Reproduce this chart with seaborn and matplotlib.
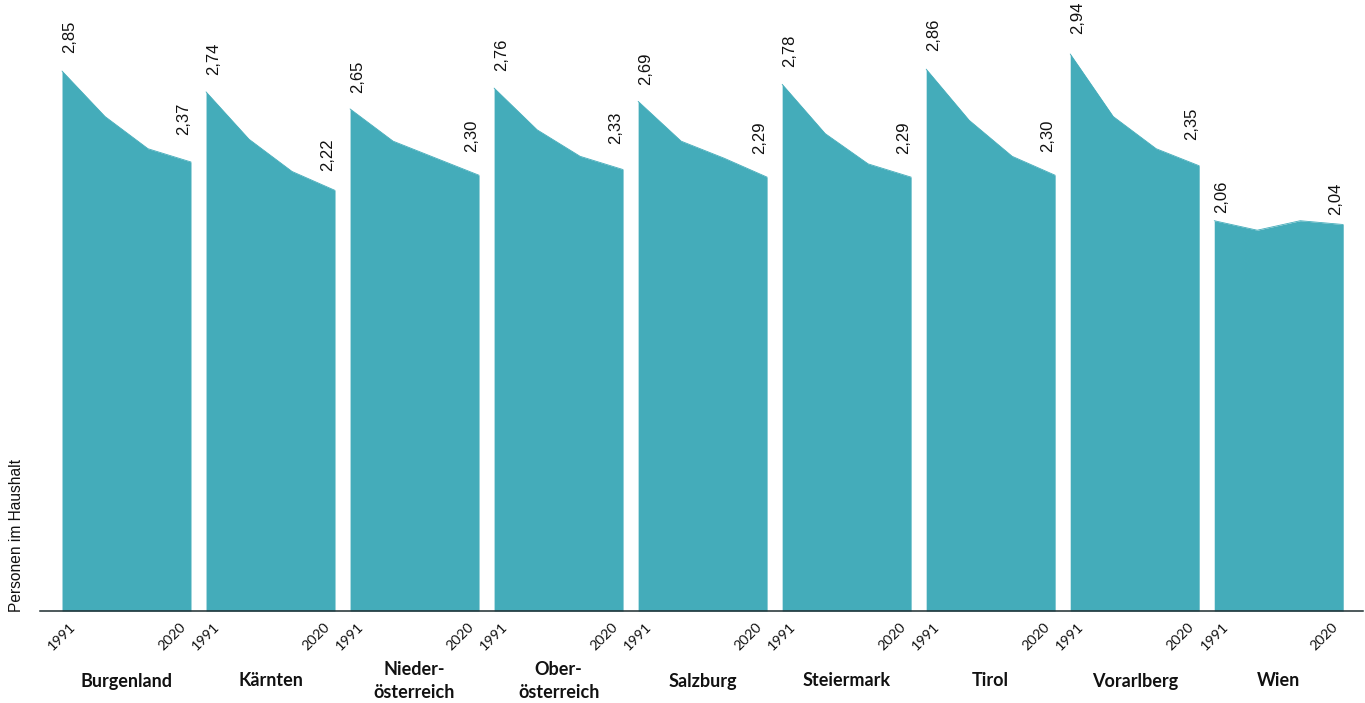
import matplotlib
matplotlib.use("Agg")
import matplotlib.pyplot as plt
import matplotlib.transforms as mtransforms
import numpy as np
import pandas as pd
import seaborn as sns

# Durchschnittliche Haushaltsgröße nach Bundesland (Volkszählung / Registerzählung)
regions = ["Burgenland", "Kärnten", "Nieder-\nösterreich", "Ober-\nösterreich",
           "Salzburg", "Steiermark", "Tirol", "Vorarlberg", "Wien"]
years = [1991, 2001, 2011, 2020]
hh_1991 = [2.85, 2.74, 2.65, 2.76, 2.69, 2.78, 2.86, 2.94, 2.06]
hh_2001 = [2.61, 2.49, 2.48, 2.54, 2.48, 2.52, 2.59, 2.61, 2.01]
hh_2011 = [2.44, 2.32, 2.39, 2.40, 2.39, 2.36, 2.40, 2.44, 2.06]
hh_2020 = [2.37, 2.22, 2.30, 2.33, 2.29, 2.29, 2.30, 2.35, 2.04]

FILL = "#44acba"
BASE = "#1d2c2f"

# long-form table: each region gets its own stretch of the x axis
gap = 0.35
step = len(years) - 1 + gap
rows = []
for i, reg in enumerate(regions):
    vals = [hh_1991[i], hh_2001[i], hh_2011[i], hh_2020[i]]
    for k, (yr, v) in enumerate(zip(years, vals)):
        rows.append({"region": reg, "year": yr, "pos": i * step + k, "value": v})
df = pd.DataFrame(rows)

sns.set_theme(style="white")
plt.rcParams["font.family"] = ["Lato", "DejaVu Sans"]

fig = plt.figure(figsize=(13.65, 7.03), dpi=100)
ax = fig.add_axes([40 / 1365, 92 / 703, 1323 / 1365, 611 / 703])

for reg, sub in df.groupby("region", sort=False):
    ax.fill_between(sub["pos"], 0, sub["value"], color=FILL, linewidth=0)
sns.lineplot(data=df, x="pos", y="value", units="region", estimator=None,
             color=FILL, linewidth=0.6, ax=ax, legend=False)

ax.set_xlim(-0.512, 30.26)
ax.set_ylim(0, 3.225)

# value labels at the first and last year of every region
label_font = dict(family=["Liberation Sans", "DejaVu Sans"], fontsize=12, color="#111111")
for reg, sub in df.groupby("region", sort=False):
    first = sub.iloc[0]
    last = sub.iloc[-1]
    v0, v1 = first["value"], last["value"]
    ax.annotate(f"{v0:.2f}".replace(".", ","), (first["pos"], v0),
                xytext=(0, 5.5 + 9.8 * (v0 - 2.06)), textcoords="offset points",
                rotation=90, ha="left", va="bottom", **label_font)
    ax.annotate(f"{v1:.2f}".replace(".", ","), (last["pos"], v1),
                xytext=(0, 6.5 + 40 * (v1 - 2.04)), textcoords="offset points",
                rotation=90, ha="right", va="bottom", **label_font)

# year ticks at both ends of each region
tick_pos, tick_lab = [], []
for reg, sub in df.groupby("region", sort=False):
    tick_pos += [sub["pos"].iloc[0], sub["pos"].iloc[-1]]
    tick_lab += [str(sub["year"].iloc[0]), str(sub["year"].iloc[-1])]
ax.set_xticks(tick_pos)
ax.set_xticklabels(tick_lab, rotation=45, ha="center", fontsize=10.3, color="#111111")
ax.tick_params(axis="x", length=0, pad=7)
shift_left = mtransforms.ScaledTranslation(-19 / 100, 0, fig.dpi_scale_trans)
for lab in ax.get_xticklabels():
    if lab.get_text() == str(years[-1]):
        lab.set_transform(lab.get_transform() + shift_left)
ax.set_yticks([])
ax.set_xlabel("")
ax.set_ylabel("")

# region names under the years
name_tf = mtransforms.blended_transform_factory(ax.transData, ax.transAxes)
for i, reg in enumerate(regions):
    ax.text(i * step + (len(years) - 1) / 2, -70 / 611, reg, transform=name_tf,
            ha="center", va="center", fontsize=13, fontweight="bold",
            linespacing=1.4, color="#111111")

for side in ["top", "right", "left"]:
    ax.spines[side].set_visible(False)
ax.spines["bottom"].set_color(BASE)
ax.spines["bottom"].set_linewidth(1.1)

fig.text(17 / 1365, 91 / 703, "Personen im Haushalt", rotation=90,
         ha="center", va="bottom", fontsize=11.2,
         family=["Liberation Sans", "DejaVu Sans"], color="#111111")

fig.savefig("out.png", dpi=100)
